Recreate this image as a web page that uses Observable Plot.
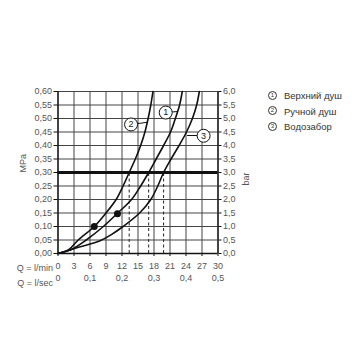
<!DOCTYPE html>
<html>
<head>
<meta charset="utf-8">
<script src="https://cdn.jsdelivr.net/npm/d3@7"></script>
<script src="https://cdn.jsdelivr.net/npm/@observablehq/plot@0.6"></script>
<style>
  body { margin: 0; background: #fff; }
  #wrap { position: relative; width: 360px; height: 360px; }
  #legend { position: absolute; left: 268px; top: 88px; font-family: "Liberation Sans", Arial, sans-serif; font-size: 9.5px; color: #333; }
  #legend .row { height: 15.5px; line-height: 15.5px; white-space: nowrap; }
  #legend .c { display: inline-block; width: 7px; height: 7px; border: 0.8px solid #333; border-radius: 50%; font-size: 6px; line-height: 7px; text-align: center; vertical-align: middle; margin-right: 7px; position: relative; top: -1px; }
</style>
</head>
<body>
<div id="wrap"></div>
<script>
// --- data ---
const flowTicks = [0, 3, 6, 9, 12, 15, 18, 21, 24, 27, 30];
const secTicks = [0, 6, 12, 18, 24, 30];
const secLabels = ["0", "0,1", "0,2", "0,3", "0,4", "0,5"];
const pressureTicks = [0, 0.05, 0.10, 0.15, 0.20, 0.25, 0.30, 0.35, 0.40, 0.45, 0.50, 0.55, 0.60];
const pressureLabels = ["0,00","0,05","0,10","0,15","0,20","0,25","0,30","0,35","0,40","0,45","0,50","0,55","0,60"];
const barLabels = ["0,0","0,5","1,0","1,5","2,0","2,5","3,0","3,5","4,0","4,5","5,0","5,5","6,0"];

// Curve 1 — Верхний душ
const q1 = [0, 2.5, 5.3, 8.5, 11.2, 13.8, 15.5, 17.0, 18.4, 19.8, 21.1, 22.0, 22.8, 23.3];
const p1 = [0, 0.015, 0.05, 0.10, 0.15, 0.20, 0.25, 0.30, 0.35, 0.40, 0.45, 0.50, 0.55, 0.60];
// Curve 2 — Ручной душ
const q2 = [0, 2.0, 3.8, 6.8, 9.0, 10.9, 12.2, 13.35, 14.5, 15.5, 16.3, 16.9, 17.4, 17.8];
const p2 = [0, 0.014, 0.05, 0.10, 0.15, 0.20, 0.25, 0.30, 0.35, 0.40, 0.45, 0.50, 0.55, 0.60];
// Curve 3 — Водозабор
const q3 = [0, 4.0, 7.8, 10.0, 12.2, 15.3, 17.4, 18.7, 19.8, 21.2, 22.7, 24.1, 25.2, 26.0, 26.5];
const p3 = [0, 0.024, 0.046, 0.07, 0.10, 0.15, 0.20, 0.25, 0.30, 0.35, 0.40, 0.45, 0.50, 0.55, 0.60];

const refPressure = 0.30;
const dashedQ = [13.35, 17.0, 19.8];
const dotQ = [6.8, 11.15];
const dotP = [0.10, 0.147];

const labelNames = ["1", "2", "3"];
const labelQ = [20.2, 13.7, 27.3];
const labelP = [0.522, 0.478, 0.436];
const leaderQ1 = [21.35, 14.9, 26.1];
const leaderQ2 = [22.45, 16.75, 24.2];
const leaderP1 = [0.524, 0.481, 0.437];
const leaderP2 = [0.526, 0.486, 0.437];

const legendItems = ["Верхний душ", "Ручной душ", "Водозабор"];

// --- build tables ---
const series = [
  ...q1.map((q, i) => ({s: 1, q, p: p1[i]})),
  ...q2.map((q, i) => ({s: 2, q, p: p2[i]})),
  ...q3.map((q, i) => ({s: 3, q, p: p3[i]}))
];
const dots = dotQ.map((q, i) => ({q, p: dotP[i]}));
const labels = labelNames.map((n, i) => ({n, q: labelQ[i], p: labelP[i]}));
const leaders = labelNames.map((n, i) => ({x1: leaderQ1[i], x2: leaderQ2[i], y1: leaderP1[i], y2: leaderP2[i]}));

const fmtP = d => pressureLabels[pressureTicks.findIndex(t => Math.abs(t - d) < 1e-6)];
const fmtBar = d => barLabels[pressureTicks.findIndex(t => Math.abs(t - d) < 1e-6)];
const fmtSec = d => secLabels[secTicks.indexOf(d)];

const chart = Plot.plot({
  width: 360,
  height: 360,
  marginLeft: 57.5,
  marginRight: 142.5,
  marginTop: 91,
  marginBottom: 107,
  style: {fontFamily: "'Liberation Sans', Arial, sans-serif", fontSize: "9px", color: "#555", background: "white"},
  x: {domain: [0, 30]},
  y: {domain: [0, 0.6]},
  marks: [
    Plot.gridX(flowTicks, {stroke: "#444", strokeOpacity: 1, strokeWidth: 1}),
    Plot.gridY(pressureTicks, {stroke: "#444", strokeOpacity: 1, strokeWidth: 1}),
    Plot.axisY(pressureTicks, {anchor: "left", tickSize: 4, tickPadding: 2, tickFormat: fmtP, stroke: "#111", label: null}),
    Plot.axisY(pressureTicks, {anchor: "right", tickSize: 3, tickPadding: 2, tickFormat: fmtBar, stroke: "#111", label: null}),
    Plot.axisX(flowTicks, {anchor: "bottom", tickSize: 3, tickPadding: 6.5, stroke: "#111", label: null}),
    Plot.axisX(secTicks, {anchor: "bottom", tickSize: 0, tickPadding: 21, tickFormat: fmtSec, label: null}),
    Plot.text(["MPa"], {frameAnchor: "left", rotate: -90, dx: -35, fill: "#555"}),
    Plot.text(["bar"], {frameAnchor: "right", rotate: -90, dx: 28.5, fill: "#555"}),
    Plot.text(["Q = l/min"], {frameAnchor: "bottom-left", textAnchor: "end", lineAnchor: "middle", dx: -5, dy: 15, fill: "#555"}),
    Plot.text(["Q = l/sec"], {frameAnchor: "bottom-left", textAnchor: "end", lineAnchor: "middle", dx: -5, dy: 29.5, fill: "#555"}),
    Plot.ruleX([0, 30], {stroke: "#111", strokeWidth: 1.3}),
    Plot.ruleY([0], {stroke: "#111", strokeWidth: 1.3}),
    Plot.ruleX(dashedQ, {y1: 0, y2: refPressure, stroke: "#222", strokeWidth: 1, strokeDasharray: "3,2.5"}),
    Plot.ruleY([refPressure], {stroke: "#111", strokeWidth: 3}),
    Plot.line(series, {x: "q", y: "p", z: "s", curve: "catmull-rom", stroke: "#111", strokeWidth: 1.6}),
    Plot.dot(dots, {x: "q", y: "p", r: 3.5, fill: "#111"}),
    Plot.link(leaders, {x1: "x1", y1: "y1", x2: "x2", y2: "y2", stroke: "#111", strokeWidth: 1}),
    Plot.dot(labels, {x: "q", y: "p", r: 6.5, fill: "white", stroke: "#111", strokeWidth: 1}),
    Plot.text(labels, {x: "q", y: "p", text: "n", fontSize: 9, fill: "#222"})
  ]
});

const wrap = document.getElementById("wrap");
wrap.appendChild(chart);
const legend = document.createElement("div");
legend.id = "legend";
legendItems.forEach((name, i) => {
  const row = document.createElement("div");
  row.className = "row";
  const c = document.createElement("span");
  c.className = "c";
  c.textContent = labelNames[i];
  row.appendChild(c);
  row.appendChild(document.createTextNode(name));
  legend.appendChild(row);
});
wrap.appendChild(legend);
</script>
</body>
</html>
